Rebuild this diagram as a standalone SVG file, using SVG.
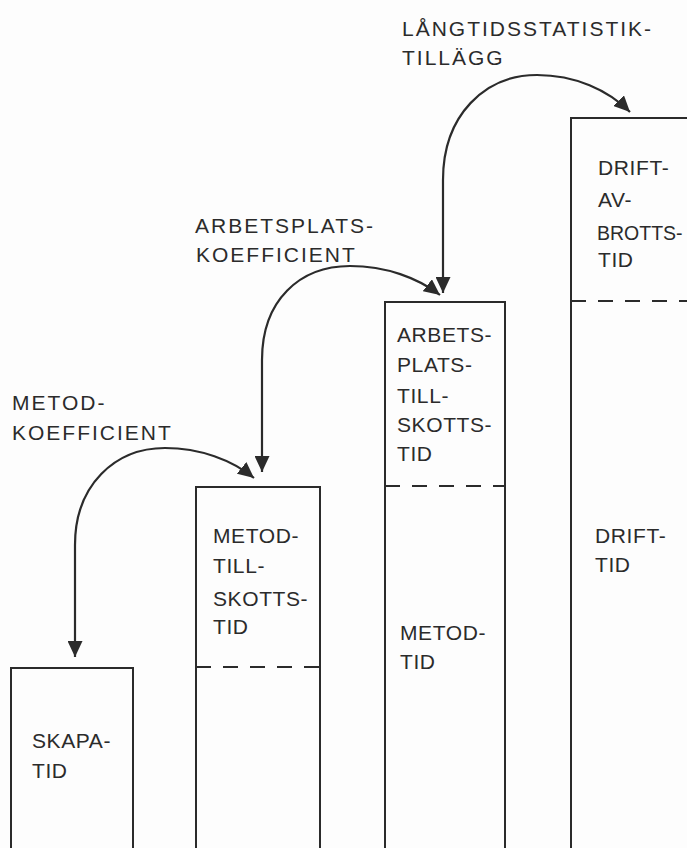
<svg xmlns="http://www.w3.org/2000/svg" width="687" height="848" viewBox="0 0 687 848">
<style>
.bg{fill:#fdfdfd}
.box{fill:none;stroke:#2b2b2b;stroke-width:2}
.dash{fill:none;stroke:#2b2b2b;stroke-width:2;stroke-dasharray:15 12}
.conn{fill:none;stroke:#2b2b2b;stroke-width:2.2}
text{font-family:"Liberation Sans",Arial,sans-serif;font-size:21px;fill:#2b2b2b}
.ann{letter-spacing:2px}
.lbl{letter-spacing:0.6px}
</style>
<defs>
<marker id="ah" markerUnits="userSpaceOnUse" markerWidth="17" markerHeight="15" refX="16" refY="7.5" orient="auto-start-reverse">
<path d="M0,0 L16,7.5 L0,15 z" fill="#2b2b2b"/>
</marker>
</defs>
<rect class="bg" x="0" y="0" width="687" height="848"/>

<g id="annotations">
<text class="ann" x="12" y="410">METOD-</text>
<text class="ann" x="12" y="440">KOEFFICIENT</text>
<text class="ann" x="195" y="233">ARBETSPLATS-</text>
<text class="ann" x="196" y="262">KOEFFICIENT</text>
<text class="ann" x="402" y="36">LÅNGTIDSSTATISTIK-</text>
<text class="ann" x="402" y="65">TILLÄGG</text>
</g>

<g id="skapa">
<path class="box" d="M11 848 V668 H133 V848"/>
<text class="lbl" x="32" y="748">SKAPA-</text>
<text class="lbl" x="32" y="778">TID</text>
</g>

<g id="metod-tillskott">
<path class="box" d="M196 848 V487 H320 V848"/>
<line class="dash" x1="196" y1="667" x2="320" y2="667"/>
<text class="lbl" x="213" y="543">METOD-</text>
<text class="lbl" x="213" y="573">TILL-</text>
<text class="lbl" x="213" y="606">SKOTTS-</text>
<text class="lbl" x="213" y="634">TID</text>
</g>

<g id="arbetsplats">
<path class="box" d="M385 848 V302 H505 V848"/>
<line class="dash" x1="385" y1="486" x2="505" y2="486"/>
<text class="lbl" x="397" y="342">ARBETS-</text>
<text class="lbl" x="397" y="372">PLATS-</text>
<text class="lbl" x="397" y="403">TILL-</text>
<text class="lbl" x="397" y="432">SKOTTS-</text>
<text class="lbl" x="397" y="461">TID</text>
<text class="lbl" x="400" y="640">METOD-</text>
<text class="lbl" x="400" y="669">TID</text>
</g>

<g id="drift">
<path class="box" d="M571 848 V118 H687"/>
<line class="dash" x1="571" y1="301" x2="687" y2="301"/>
<text class="lbl" x="598" y="175">DRIFT-</text>
<text class="lbl" x="598" y="207">AV-</text>
<text x="597" y="240" style="font-size:19.5px">BROTTS-</text>
<text class="lbl" x="598" y="267">TID</text>
<text class="lbl" x="595" y="543">DRIFT-</text>
<text class="lbl" x="595" y="572">TID</text>
</g>

<g id="connectors">
<path class="conn" marker-start="url(#ah)" marker-end="url(#ah)" d="M75 657 L75 545 C75 485 115 448 165 448 C200 448 232 460 254 478"/>
<path class="conn" marker-start="url(#ah)" marker-end="url(#ah)" d="M262 472 L262 360 C262 300 300 266 350 266 C386 266 418 278 440 295"/>
<path class="conn" marker-start="url(#ah)" marker-end="url(#ah)" d="M443 293 L443 180 C443 115 485 75 537 75 C575 75 608 90 630 112"/>
</g>
</svg>
